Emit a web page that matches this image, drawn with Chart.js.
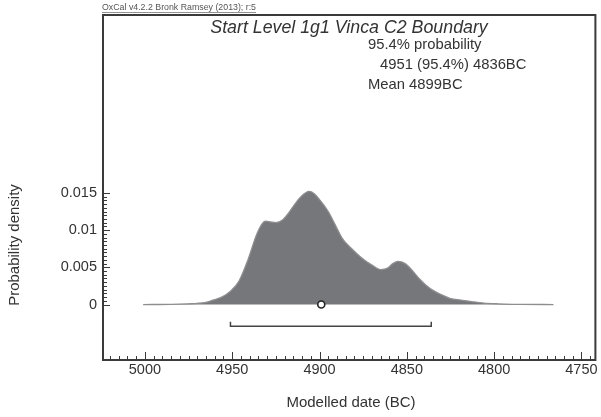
<!DOCTYPE html>
<html>
<head>
    <meta charset="UTF-8">
    <title>Start Level 1g1 Vinca C2 Boundary</title>
    <script src="https://cdn.jsdelivr.net/npm/chart.js"></script>
    <style>
        body { margin: 0; background: #fff; }
        canvas { display: block; }
    </style>
</head>
<body>
    <canvas id="oxcalChart" width="601" height="417"></canvas>

    <script>
        // modelled date (BC) and probability density
        var years = [5001, 4985, 4975, 4970, 4965, 4961, 4956, 4951, 4946, 4941,
                     4936, 4933, 4931, 4928, 4925, 4921, 4918, 4915, 4911, 4906,
                     4903, 4900, 4895, 4891, 4887, 4882, 4876, 4870, 4865, 4861,
                     4858, 4855, 4851, 4847, 4843, 4839, 4835, 4830, 4825, 4819,
                     4813, 4806, 4798, 4785, 4766];
        var density = [0, 0.00003, 0.0001, 0.00016, 0.0003, 0.0006, 0.001, 0.0018, 0.0032, 0.006,
                       0.0094, 0.0108, 0.0112, 0.0111, 0.011, 0.0114, 0.0122, 0.0132, 0.0144, 0.0152,
                       0.0149, 0.0141, 0.0125, 0.0107, 0.0089, 0.0076, 0.0063, 0.0053, 0.0047, 0.0049,
                       0.0055, 0.0058, 0.0055, 0.0046, 0.0035, 0.0026, 0.0019, 0.0013, 0.0008, 0.0006,
                       0.0004, 0.0002, 0.0001, 0.00003, 0];
        var meanYear = 4899;
        var rangeYears = [4951, 4836];
        var xTicks = [5000, 4950, 4900, 4850, 4800, 4750];
        var yTicks = [0, 0.005, 0.01, 0.015];

        var FONT = '"Liberation Sans", Arial, sans-serif';
        var INK = '#333333';

        var curve = [];
        for (var i = 0; i < years.length; i++) {
            curve.push({ x: years[i], y: density[i] });
        }
        // range bracket sits a little below zero
        var barY = -0.0029, capY = -0.0023;
        var bracket = [
            { x: rangeYears[0], y: capY },
            { x: rangeYears[0], y: barY },
            { x: rangeYears[1], y: barY },
            { x: rangeYears[1], y: capY }
        ];

        var oxcalFrame = {
            id: 'oxcalFrame',
            afterDraw: function (chart) {
                var ctx = chart.ctx;
                var a = chart.chartArea;
                var xs = chart.scales.x, ys = chart.scales.y;
                ctx.save();

                // inward ticks
                ctx.strokeStyle = '#3a3a3a';
                ctx.lineWidth = 1;
                ctx.beginPath();
                for (var v = 4745; v <= 5020; v += 5) {
                    var px = Math.round(xs.getPixelForValue(v)) + 0.5;
                    var len = (v % 50 === 0) ? 8 : 4;
                    ctx.moveTo(px, a.bottom);
                    ctx.lineTo(px, a.bottom - len);
                }
                for (var k = 0; k <= 30; k++) {
                    var py = Math.round(ys.getPixelForValue(k * 0.0005)) + 0.5;
                    var l2 = (k % 10 === 0) ? 7 : 4;
                    ctx.moveTo(a.left, py);
                    ctx.lineTo(a.left + l2, py);
                }
                ctx.stroke();

                // frame
                ctx.lineWidth = 2;
                ctx.strokeRect(a.left, a.top, a.right - a.left, a.bottom - a.top);

                // header
                ctx.fillStyle = '#555';
                ctx.font = '8.8px ' + FONT;
                ctx.textAlign = 'left';
                ctx.textBaseline = 'middle';
                var head = 'OxCal v4.2.2 Bronk Ramsey (2013); r:5';
                ctx.fillText(head, 102, 8);
                ctx.lineWidth = 0.8;
                ctx.strokeStyle = '#777';
                ctx.beginPath();
                ctx.moveTo(102, 12.5);
                ctx.lineTo(102 + ctx.measureText(head).width, 12.5);
                ctx.stroke();

                ctx.fillStyle = INK;
                ctx.font = 'italic 17.8px ' + FONT;
                ctx.textAlign = 'center';
                ctx.fillText('Start Level 1g1 Vinca C2 Boundary', 349, 28);

                ctx.font = '14.8px ' + FONT;
                ctx.textAlign = 'left';
                ctx.fillText('95.4% probability', 368, 45);
                ctx.fillText('4951 (95.4%) 4836BC', 380, 65);
                ctx.fillText('Mean 4899BC', 368, 85);

                // axis titles
                ctx.font = '15px ' + FONT;
                ctx.textAlign = 'center';
                ctx.fillText('Modelled date (BC)', 351, 403);
                ctx.translate(15, 245);
                ctx.rotate(-Math.PI / 2);
                ctx.fillText('Probability density', 0, 0);
                ctx.restore();
            }
        };

        var ctx = document.getElementById('oxcalChart').getContext('2d');
        var oxcalChart = new Chart(ctx, {
            type: 'line',
            data: {
                datasets: [{
                    data: curve,
                    order: 3,
                    fill: 'origin',
                    backgroundColor: '#76777a',
                    borderColor: '#8e8e90',
                    borderWidth: 1.3,
                    pointRadius: 0,
                    cubicInterpolationMode: 'monotone'
                }, {
                    data: bracket,
                    order: 2,
                    fill: false,
                    borderColor: '#444',
                    borderWidth: 1.5,
                    pointRadius: 0,
                    tension: 0
                }, {
                    data: [{ x: meanYear, y: 0 }],
                    order: 1,
                    showLine: false,
                    pointRadius: 3.5,
                    pointBackgroundColor: '#fff',
                    pointBorderColor: '#222',
                    pointBorderWidth: 1.6
                }]
            },
            options: {
                responsive: false,
                animation: false,
                layout: { padding: { left: 0, top: 15, right: 2, bottom: 0 } },
                plugins: {
                    legend: { display: false },
                    tooltip: { enabled: false }
                },
                scales: {
                    x: {
                        type: 'linear',
                        reverse: true,
                        min: 4742,
                        max: 5024,
                        grid: { display: false, tickLength: 0 },
                        border: { display: false },
                        afterBuildTicks: function (s) {
                            s.ticks = xTicks.map(function (v) { return { value: v }; });
                        },
                        afterFit: function (s) { s.height = 57; },
                        ticks: {
                            color: INK,
                            padding: 1,
                            maxRotation: 0,
                            font: { family: FONT, size: 14.5 },
                            callback: function (v) { return String(v); }
                        }
                    },
                    y: {
                        min: -0.00745,
                        max: 0.0389,
                        grid: { display: false, tickLength: 0 },
                        border: { display: false },
                        afterBuildTicks: function (s) {
                            s.ticks = yTicks.map(function (v) { return { value: v }; });
                        },
                        afterFit: function (s) { s.width = 103; },
                        ticks: {
                            color: INK,
                            padding: 6,
                            font: { family: FONT, size: 14.5 },
                            callback: function (v) { return String(v); }
                        }
                    }
                }
            },
            plugins: [oxcalFrame]
        });
    </script>
</body>
</html>
